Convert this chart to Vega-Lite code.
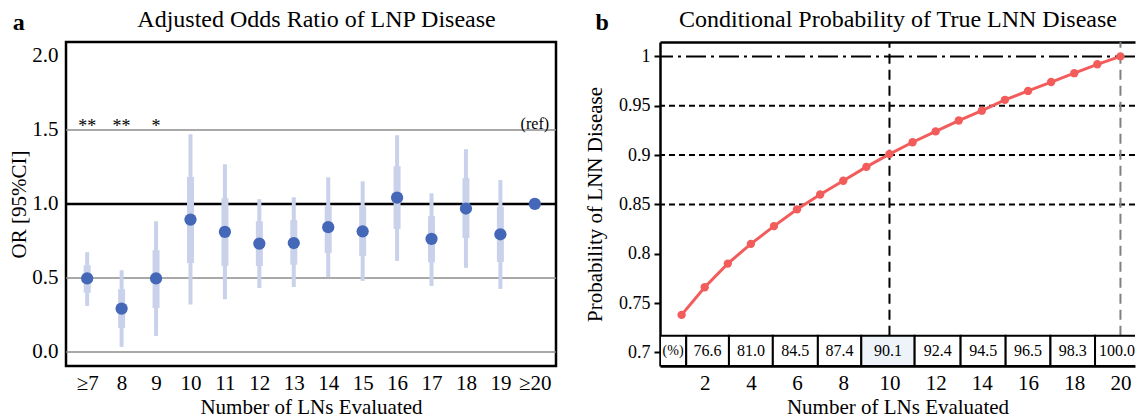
{
  "$schema": "https://vega.github.io/schema/vega-lite/v6.json",
  "padding": {"left": 7, "top": 5, "right": 0, "bottom": 0},
  "spacing": 25,
  "config": {
    "font": "Liberation Serif",
    "view": {"stroke": null},
    "axis": {"labelColor": "black", "titleColor": "black", "titleFontWeight": "normal", "grid": false, "labelFont": "Liberation Serif", "titleFont": "Liberation Serif"},
    "title": {"color": "black", "font": "Liberation Serif"}
  },
  "datasets": {
    "or": [
      {"cat": "≥7", "or": 0.497, "lo95": 0.311, "hi95": 0.674, "lo50": 0.40, "hi50": 0.586, "sig": "**"},
      {"cat": "8", "or": 0.293, "lo95": 0.034, "hi95": 0.552, "lo50": 0.162, "hi50": 0.424, "sig": "**"},
      {"cat": "9", "or": 0.497, "lo95": 0.108, "hi95": 0.883, "lo50": 0.297, "hi50": 0.687, "sig": "*"},
      {"cat": "10", "or": 0.894, "lo95": 0.32, "hi95": 1.471, "lo50": 0.601, "hi50": 1.182, "sig": ""},
      {"cat": "11", "or": 0.811, "lo95": 0.356, "hi95": 1.268, "lo50": 0.581, "hi50": 1.038, "sig": ""},
      {"cat": "12", "or": 0.732, "lo95": 0.432, "hi95": 1.032, "lo50": 0.581, "hi50": 0.883, "sig": ""},
      {"cat": "13", "or": 0.736, "lo95": 0.439, "hi95": 1.045, "lo50": 0.59, "hi50": 0.89, "sig": ""},
      {"cat": "14", "or": 0.843, "lo95": 0.505, "hi95": 1.18, "lo50": 0.669, "hi50": 0.984, "sig": ""},
      {"cat": "15", "or": 0.815, "lo95": 0.48, "hi95": 1.153, "lo50": 0.649, "hi50": 0.984, "sig": ""},
      {"cat": "16", "or": 1.043, "lo95": 0.615, "hi95": 1.464, "lo50": 0.831, "hi50": 1.255, "sig": ""},
      {"cat": "17", "or": 0.764, "lo95": 0.446, "hi95": 1.072, "lo50": 0.606, "hi50": 0.917, "sig": ""},
      {"cat": "18", "or": 0.969, "lo95": 0.568, "hi95": 1.37, "lo50": 0.77, "hi50": 1.174, "sig": ""},
      {"cat": "19", "or": 0.795, "lo95": 0.426, "hi95": 1.161, "lo50": 0.608, "hi50": 0.98, "sig": ""},
      {"cat": "≥20", "or": 1.0, "sig": ""}
    ],
    "prob": [
      {"n": 1, "p": 0.738}, {"n": 2, "p": 0.766}, {"n": 3, "p": 0.790}, {"n": 4, "p": 0.810},
      {"n": 5, "p": 0.828}, {"n": 6, "p": 0.845}, {"n": 7, "p": 0.860}, {"n": 8, "p": 0.874},
      {"n": 9, "p": 0.888}, {"n": 10, "p": 0.901}, {"n": 11, "p": 0.913}, {"n": 12, "p": 0.924},
      {"n": 13, "p": 0.935}, {"n": 14, "p": 0.945}, {"n": 15, "p": 0.956}, {"n": 16, "p": 0.965},
      {"n": 17, "p": 0.974}, {"n": 18, "p": 0.983}, {"n": 19, "p": 0.992}, {"n": 20, "p": 1.0}
    ],
    "table": [
      {"pct": "(%)", "lo": 0.065, "hi": 1.2},
      {"pct": "76.6", "lo": 1.2, "hi": 3.05},
      {"pct": "81.0", "lo": 3.05, "hi": 4.95},
      {"pct": "84.5", "lo": 4.95, "hi": 6.9},
      {"pct": "87.4", "lo": 6.9, "hi": 8.78},
      {"pct": "90.1", "lo": 8.78, "hi": 11.09},
      {"pct": "92.4", "lo": 11.09, "hi": 13.08},
      {"pct": "94.5", "lo": 13.08, "hi": 15.03},
      {"pct": "96.5", "lo": 15.03, "hi": 16.97},
      {"pct": "98.3", "lo": 16.97, "hi": 18.9},
      {"pct": "100.0", "lo": 18.9, "hi": 20.9}
    ]
  },
  "hconcat": [
    {
      "width": 490,
      "height": 324,
      "view": {"stroke": "black", "strokeWidth": 2.5},
      "title": {"text": "a", "anchor": "start", "frame": "bounds", "fontSize": 24, "fontWeight": "bold", "offset": -28, "dx": 4},
      "resolve": {"axis": {"x": "independent"}},
      "layer": [
        {
          "data": {"values": [{"v": 0}, {"v": 0.5}, {"v": 1.5}]},
          "mark": {"type": "rule", "color": "#8c8c8c", "strokeWidth": 1.5},
          "encoding": {"y": {"field": "v", "type": "quantitative", "title": "OR [95%CI]"}}
        },
        {
          "data": {"values": [{"v": 1}]},
          "mark": {"type": "rule", "color": "black", "strokeWidth": 2.5},
          "encoding": {"y": {"field": "v", "type": "quantitative", "title": "OR [95%CI]"}}
        },
        {
          "data": {"name": "or"},
          "mark": {"type": "rule", "color": "#C9D2EA", "strokeWidth": 4},
          "encoding": {
            "x": {"field": "cat", "type": "nominal", "sort": null, "axis": null,
                  "scale": {"type": "point", "padding": 0.615, "domain": ["≥7","8","9","10","11","12","13","14","15","16","17","18","19","≥20"]}},
            "y": {"field": "lo95", "type": "quantitative", "title": "OR [95%CI]"},
            "y2": {"field": "hi95"}
          }
        },
        {
          "data": {"name": "or"},
          "mark": {"type": "rule", "color": "#C9D2EA", "strokeWidth": 7},
          "encoding": {
            "x": {"field": "cat", "type": "nominal", "sort": null, "axis": null},
            "y": {"field": "lo50", "type": "quantitative", "title": "OR [95%CI]"},
            "y2": {"field": "hi50"}
          }
        },
        {
          "data": {"name": "or"},
          "mark": {"type": "circle", "color": "#4567B7", "size": 150, "opacity": 1},
          "encoding": {
            "x": {"field": "cat", "type": "nominal", "sort": null,
                  "axis": {"labelAngle": 0, "labelFontSize": 21, "labelPadding": 6, "ticks": false, "domain": false,
                           "title": "Number of LNs Evaluated", "titleFontSize": 21, "titlePadding": 3}},
            "y": {"field": "or", "type": "quantitative", "title": "OR [95%CI]",
                  "scale": {"domain": [-0.095, 2.094], "nice": false, "zero": false},
                  "axis": {"values": [0, 0.5, 1, 1.5, 2], "format": ".1f", "ticks": false, "domain": false,
                           "labelFontSize": 21, "labelPadding": 8, "titleFontSize": 21, "titlePadding": 2}}
          }
        },
        {
          "data": {"name": "or"},
          "mark": {"type": "text", "fontSize": 18, "baseline": "bottom", "dy": 6},
          "encoding": {
            "x": {"field": "cat", "type": "nominal", "sort": null,
                  "axis": {"orient": "top", "labels": false, "ticks": false, "domain": false,
                           "title": "Adjusted Odds Ratio of LNP Disease", "titleFontSize": 24, "titlePadding": 11, "titleX": 250}},
            "y": {"datum": 1.5},
            "text": {"field": "sig"}
          }
        },
        {
          "data": {"values": [{"cat": "≥20", "t": "(ref)"}]},
          "mark": {"type": "text", "fontSize": 16, "baseline": "bottom", "dy": 2},
          "encoding": {
            "x": {"field": "cat", "type": "nominal", "axis": null},
            "y": {"datum": 1.5},
            "text": {"field": "t"}
          }
        }
      ]
    },
    {
      "width": 475,
      "height": 324,
      "view": {"stroke": null},
      "title": {"text": "b", "anchor": "start", "frame": "bounds", "fontSize": 24, "fontWeight": "bold", "offset": -28, "dx": 11},
      "resolve": {"axis": {"x": "independent"}},
      "layer": [
        {
          "data": {"values": [{"v": 0.85}, {"v": 0.9}, {"v": 0.95}]},
          "mark": {"type": "rule", "color": "black", "strokeWidth": 2, "strokeDash": [6, 4]},
          "encoding": {"y": {"field": "v", "type": "quantitative", "title": "Probability of LNN Disease"}}
        },
        {
          "data": {"values": [{"v": 1}]},
          "mark": {"type": "rule", "color": "black", "strokeWidth": 2, "strokeDash": [20, 5, 3, 5]},
          "encoding": {"y": {"field": "v", "type": "quantitative", "title": "Probability of LNN Disease"}}
        },
        {
          "data": {"values": [{"n": 10}]},
          "mark": {"type": "rule", "color": "black", "strokeWidth": 2, "strokeDash": [10, 6]},
          "encoding": {
            "x": {"field": "n", "type": "quantitative", "axis": null},
            "y": {"datum": 0.7169},
            "y2": {"datum": 1.0146}
          }
        },
        {
          "data": {"values": [{"n": 20}]},
          "mark": {"type": "rule", "color": "#808080", "strokeWidth": 2, "strokeDash": [10, 6]},
          "encoding": {
            "x": {"field": "n", "type": "quantitative", "axis": null},
            "y": {"datum": 0.7169},
            "y2": {"datum": 1.0146}
          }
        },
        {
          "data": {"name": "table"},
          "mark": {"type": "rect", "stroke": "black", "strokeWidth": 2, "clip": true},
          "encoding": {
            "x": {"field": "lo", "type": "quantitative", "axis": null},
            "x2": {"field": "hi"},
            "y": {"datum": 0.6862},
            "y2": {"datum": 0.7169},
            "fill": {"condition": {"test": "datum.pct == '90.1'", "value": "#EEF2F9"}, "value": "white"}
          }
        },
        {
          "data": {"name": "table"},
          "transform": [{"calculate": "datum.pct == '100.0' ? 19.85 : (datum.lo + datum.hi) / 2", "as": "mid"}],
          "mark": {"type": "text", "baseline": "middle", "align": "center", "clip": true},
          "encoding": {
            "x": {"field": "mid", "type": "quantitative",
                  "axis": {"orient": "top", "labels": false, "ticks": false, "domain": true, "domainColor": "black", "domainWidth": 2.5,
                           "title": "Conditional Probability of True LNN Disease", "titleFontSize": 24, "titlePadding": 11}},
            "y": {"datum": 0.7015},
            "text": {"field": "pct"},
            "size": {"condition": {"test": "datum.pct == '(%)'", "value": 14}, "value": 16}
          }
        },
        {
          "data": {"name": "prob"},
          "mark": {"type": "line", "color": "#F25D5B", "strokeWidth": 3, "point": {"filled": true, "size": 70, "color": "#F25D5B", "opacity": 1}},
          "encoding": {
            "x": {"field": "n", "type": "quantitative",
                  "scale": {"domain": [0.065, 20.63], "nice": false, "zero": false},
                  "axis": {"values": [2, 4, 6, 8, 10, 12, 14, 16, 18, 20], "ticks": false, "domain": true, "domainColor": "black", "domainWidth": 2.5,
                           "labelFontSize": 21, "labelPadding": 6, "title": "Number of LNs Evaluated", "titleFontSize": 21, "titlePadding": 3}},
            "y": {"field": "p", "type": "quantitative", "title": "Probability of LNN Disease",
                  "scale": {"domain": [0.6862, 1.0146], "nice": false, "zero": false},
                  "axis": {"values": [0.7, 0.75, 0.8, 0.85, 0.9, 0.95, 1], "format": "~g", "ticks": true, "tickSize": 6, "tickWidth": 2, "tickColor": "black",
                           "domain": true, "domainColor": "black", "domainWidth": 2.5,
                           "labelFontSize": 18, "labelPadding": 4, "titleFontSize": 21, "titlePadding": 13}}
          }
        }
      ]
    }
  ]
}
